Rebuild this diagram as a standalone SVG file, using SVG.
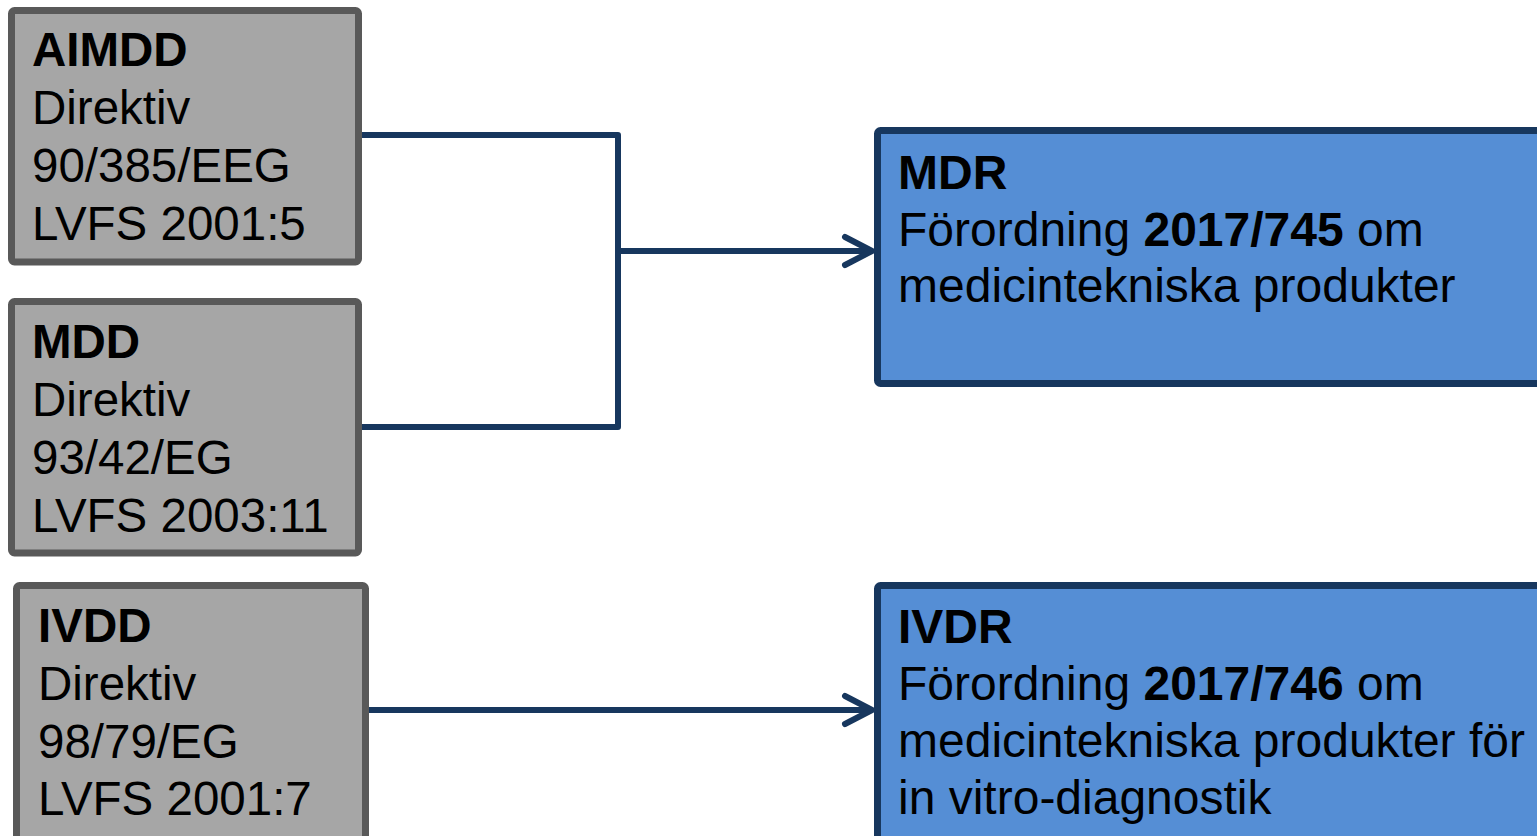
<svg xmlns="http://www.w3.org/2000/svg" width="1537" height="836" viewBox="0 0 1537 836">
<style>
.src{fill:#A6A6A6;stroke:#595959;stroke-width:7;}
.dst{fill:#558ED5;stroke:#17375E;stroke-width:7;}
text{font-family:"Liberation Sans",Arial,sans-serif;font-size:47.5px;fill:#000;}
.r text{font-size:48px;}
.b{font-weight:bold;}
.conn{fill:none;stroke:#17375E;stroke-width:6;stroke-linejoin:round;stroke-linecap:butt;}
.head{fill:none;stroke:#17375E;stroke-width:6;stroke-linejoin:round;stroke-linecap:round;}
</style>
<rect width="1537" height="836" fill="#FFFFFF"/>
<g id="connectors">
<path class="conn" d="M361,135 H618 V427 H361"/>
<path class="conn" d="M618,251 H870"/>
<path class="head" d="M845,237 L872,251 L845,265"/>
<path class="conn" d="M368,710 H870"/>
<path class="head" d="M845,696 L872,710 L845,724"/>
</g>
<g id="aimdd">
<rect class="src" x="11.5" y="10.5" width="347" height="251.5" rx="3"/>
<text x="32" y="66" class="b">AIMDD</text>
<text x="32" y="124">Direktiv</text>
<text x="32" y="182">90/385/EEG</text>
<text x="32" y="240">LVFS 2001:5</text>
</g>
<g id="mdd">
<rect class="src" x="11.5" y="301.5" width="347" height="251.5" rx="3"/>
<text x="32" y="358" class="b">MDD</text>
<text x="32" y="416">Direktiv</text>
<text x="32" y="474">93/42/EG</text>
<text x="32" y="532">LVFS 2003:11</text>
</g>
<g id="ivdd">
<rect class="src" x="16.5" y="585.5" width="349" height="262" rx="3"/>
<text x="38" y="642" class="b">IVDD</text>
<text x="38" y="700">Direktiv</text>
<text x="38" y="758">98/79/EG</text>
<text x="38" y="815">LVFS 2001:7</text>
</g>
<g id="mdr" class="r">
<rect class="dst" x="877.5" y="130.5" width="680" height="253" rx="3"/>
<text x="898" y="189" class="b">MDR</text>
<text x="898" y="246">Förordning <tspan class="b">2017/745</tspan> om</text>
<text x="898" y="302">medicintekniska produkter</text>
</g>
<g id="ivdr" class="r">
<rect class="dst" x="877.5" y="585.5" width="680" height="262" rx="3"/>
<text x="898" y="643" class="b">IVDR</text>
<text x="898" y="700">Förordning <tspan class="b">2017/746</tspan> om</text>
<text x="898" y="757">medicintekniska produkter för</text>
<text x="898" y="814">in vitro-diagnostik</text>
</g>
</svg>
